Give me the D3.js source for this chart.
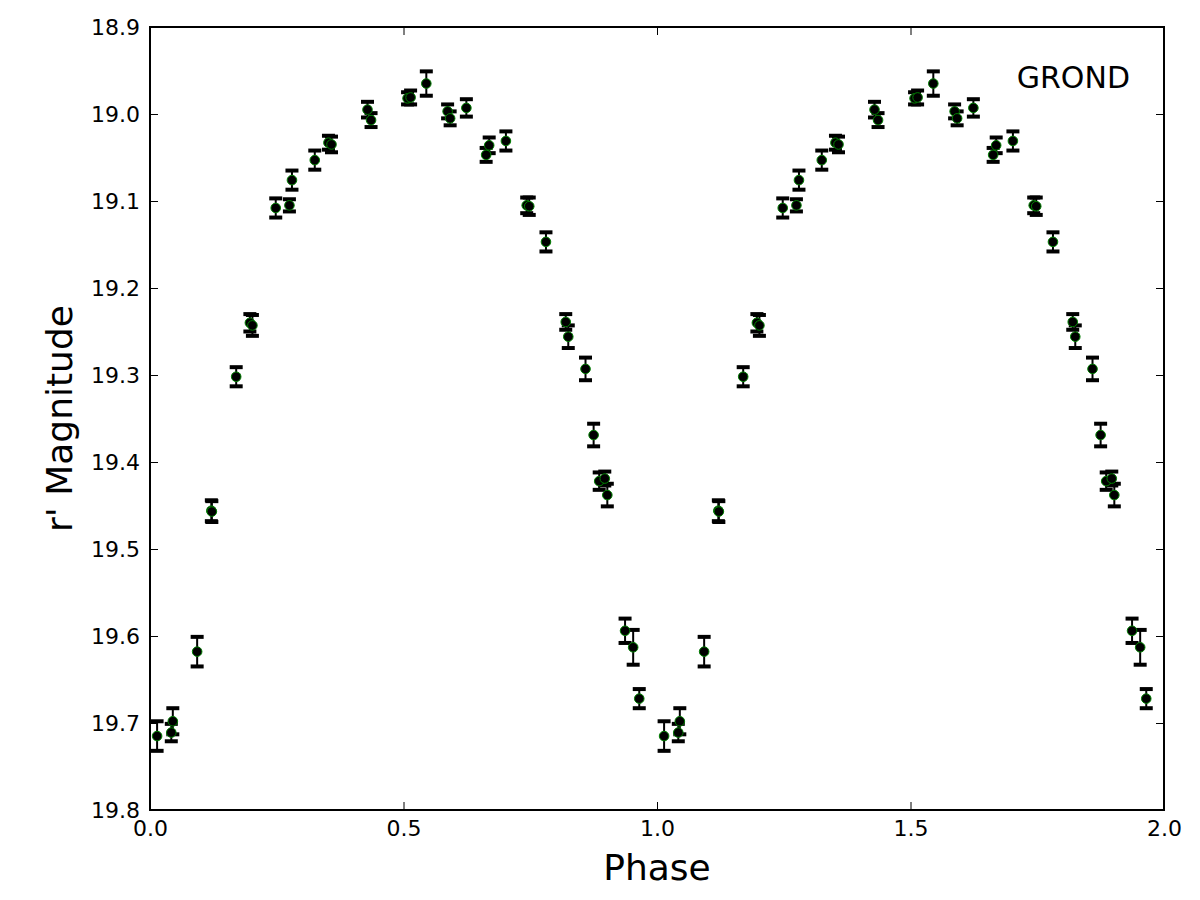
<!DOCTYPE html>
<html>
<head>
<meta charset="utf-8">
<script src="https://cdn.jsdelivr.net/npm/d3@7"></script>
<style>
  body { margin: 0; background: #fff; }
  svg text { font-family: "DejaVu Sans", sans-serif; fill: #000; }
</style>
</head>
<body>
<div id="chart"></div>
<script>
// folded light curve, one cycle (phase 0-1), plotted twice
var phase = [0.014, 0.042, 0.045, 0.093, 0.121, 0.122, 0.170, 0.197, 0.202, 0.248,
	0.275, 0.280, 0.325, 0.352, 0.358, 0.429, 0.436, 0.508, 0.514, 0.545,
	0.587, 0.592, 0.624, 0.663, 0.669, 0.702, 0.743, 0.748, 0.781, 0.820,
	0.825, 0.859, 0.875, 0.886, 0.897, 0.902, 0.937, 0.953, 0.965];
var mag = [19.715, 19.711, 19.698, 19.618, 19.456, 19.457, 19.302, 19.240, 19.243, 19.108,
	19.105, 19.076, 19.053, 19.033, 19.035, 18.995, 19.007, 18.982, 18.981, 18.965,
	18.997, 19.005, 18.993, 19.047, 19.036, 19.031, 19.105, 19.106, 19.147, 19.239,
	19.256, 19.293, 19.369, 19.422, 19.419, 19.438, 19.594, 19.613, 19.672];
var magErr = [0.017, 0.010, 0.015, 0.017, 0.012, 0.012, 0.011, 0.010, 0.012, 0.011,
	0.007, 0.011, 0.011, 0.008, 0.009, 0.009, 0.008, 0.007, 0.008, 0.014,
	0.008, 0.008, 0.010, 0.008, 0.009, 0.011, 0.009, 0.010, 0.011, 0.009,
	0.013, 0.013, 0.013, 0.010, 0.008, 0.013, 0.014, 0.020, 0.011];
var cycles = [0, 1];
var xTicks = [0.0, 0.5, 1.0, 1.5, 2.0];
var yTicks = [18.9, 19.0, 19.1, 19.2, 19.3, 19.4, 19.5, 19.6, 19.7, 19.8];

// build point list for both cycles
var points = [];
cycles.forEach(function(c) {
	for (var i = 0; i < phase.length; i ++) {
		points.push({x: phase[i] + c, y: mag[i], e: magErr[i]});
	}
});

var width = 1200;
var height = 900;
var margin = {left: 150, top: 27, right: 36, bottom: 90};

var x = d3.scaleLinear()
	.domain([0, 2])
	.range([margin.left, width - margin.right]);
var y = d3.scaleLinear()
	.domain([18.9, 19.8])
	.range([margin.top, height - margin.bottom]);

var svg = d3.select("#chart")
	.append("svg")
	.attr("width", width)
	.attr("height", height);

// ticks pointing inwards on all four sides
var tickLen = 8;
var xAxisB = d3.axisBottom(x).tickValues(xTicks).tickFormat(d3.format(".1f"))
	.tickSizeInner(-tickLen).tickSizeOuter(0).tickPadding(10);
var xAxisT = d3.axisTop(x).tickValues(xTicks).tickFormat("")
	.tickSizeInner(-tickLen).tickSizeOuter(0);
var yAxisL = d3.axisLeft(y).tickValues(yTicks).tickFormat(d3.format(".1f"))
	.tickSizeInner(-tickLen).tickSizeOuter(0).tickPadding(10);
var yAxisR = d3.axisRight(y).tickValues(yTicks).tickFormat("")
	.tickSizeInner(-tickLen).tickSizeOuter(0);

function styleAxis(g) {
	g.select(".domain").remove();
	g.selectAll(".tick line").attr("stroke", "#000").attr("stroke-width", 1);
	g.selectAll(".tick text").style("font-size", "22px").attr("fill", "#000");
}

svg.append("g")
	.attr("transform", "translate(0," + y.range()[1] + ")")
	.call(xAxisB).call(styleAxis);
svg.append("g")
	.attr("transform", "translate(0," + y.range()[0] + ")")
	.call(xAxisT).call(styleAxis);
svg.append("g")
	.attr("transform", "translate(" + x.range()[0] + ",0)")
	.call(yAxisL).call(styleAxis);
svg.append("g")
	.attr("transform", "translate(" + x.range()[1] + ",0)")
	.call(yAxisR).call(styleAxis);

// error bars
var capW = 6.5;
var bars = svg.append("g");
bars.selectAll("line.err")
	.data(points)
	.enter()
	.append("line")
	.attr("class", "err")
	.attr("x1", function(d) { return x(d.x); })
	.attr("x2", function(d) { return x(d.x); })
	.attr("y1", function(d) { return y(d.y - d.e); })
	.attr("y2", function(d) { return y(d.y + d.e); })
	.attr("stroke", "#000")
	.attr("stroke-width", 2);
["lo", "hi"].forEach(function(side) {
	bars.selectAll("line.cap" + side)
		.data(points)
		.enter()
		.append("line")
		.attr("class", "cap" + side)
		.attr("x1", function(d) { return x(d.x) - capW; })
		.attr("x2", function(d) { return x(d.x) + capW; })
		.attr("y1", function(d) { return y(side == "lo" ? d.y - d.e : d.y + d.e); })
		.attr("y2", function(d) { return y(side == "lo" ? d.y - d.e : d.y + d.e); })
		.attr("stroke", "#000")
		.attr("stroke-width", 4);
});

// markers
svg.append("g")
	.selectAll("circle")
	.data(points)
	.enter()
	.append("circle")
	.attr("cx", function(d) { return x(d.x); })
	.attr("cy", function(d) { return y(d.y); })
	.attr("r", 4.8)
	.attr("fill", "#000")
	.attr("stroke", "#008000")
	.attr("stroke-width", 1);

// frame
svg.append("rect")
	.attr("x", x.range()[0])
	.attr("y", y.range()[0])
	.attr("width", x.range()[1] - x.range()[0])
	.attr("height", y.range()[1] - y.range()[0])
	.attr("fill", "none")
	.attr("stroke", "#000")
	.attr("stroke-width", 2);

// labels
svg.append("text")
	.attr("x", (x.range()[0] + x.range()[1]) / 2)
	.attr("y", 880)
	.style("text-anchor", "middle")
	.style("font-size", "36px")
	.text("Phase");
svg.append("text")
	.attr("transform", "translate(72," + ((y.range()[0] + y.range()[1]) / 2) + ") rotate(-90)")
	.style("text-anchor", "middle")
	.style("font-size", "36px")
	.text("r' Magnitude");
svg.append("text")
	.attr("x", 1130)
	.attr("y", 88)
	.style("text-anchor", "end")
	.style("font-size", "30px")
	.text("GROND");
</script>
</body>
</html>
